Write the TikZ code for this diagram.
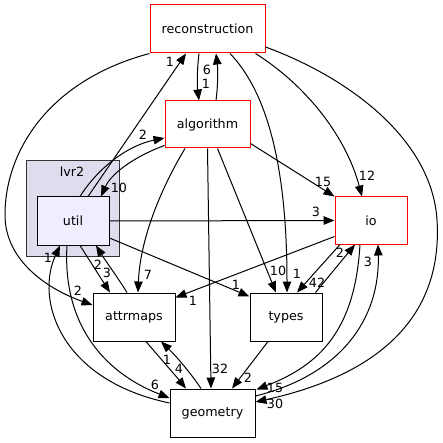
\documentclass[tikz,border=0pt]{standalone}
\usepackage{fontspec}
\setmainfont{DejaVu Sans}
\usetikzlibrary{arrows.meta,calc}
\definecolor{dxred}{HTML}{FF0000}
\definecolor{clusterfill}{HTML}{DDDDEE}
\definecolor{clusterline}{HTML}{333333}
\definecolor{utilfill}{HTML}{EEEEFF}
\newcommand\dxfont{\fontsize{12.7}{14}\selectfont}
\tikzset{
  dirbox/.style={draw=black, fill=white, line width=1pt, inner sep=0pt, font=\dxfont},
  redbox/.style={dirbox, draw=dxred},
  clusterbox/.style={draw=clusterline, fill=clusterfill, line width=1pt, inner sep=0pt},
  edge/.style={line width=1pt, -{Triangle[length=11pt,width=8.5pt]}},
  lbl/.style={inner sep=0pt, font=\dxfont}
}
\begin{document}
\begin{tikzpicture}[x=1pt,y=-1pt]
\useasboundingbox (0,0) rectangle (443,443);
% cluster
\node[clusterbox, minimum width=93pt, minimum height=95pt] (lvr2) at (72.5,208.5) {};
\node[lbl] (lvr2label) at (72,172) {lvr2};
% nodes
\node[redbox, minimum width=115pt, minimum height=48pt] (reconstruction) at (207.5,29) {reconstruction};
\node[redbox, minimum width=85pt, minimum height=47pt] (algorithm) at (207.5,124.5) {algorithm};
\node[dirbox, fill=utilfill, minimum width=72pt, minimum height=48pt] (util) at (73,221) {util};
\node[redbox, minimum width=72pt, minimum height=47pt] (io) at (371,220.5) {io};
\node[dirbox, minimum width=82pt, minimum height=48pt] (attrmaps) at (134,317) {attrmaps};
\node[dirbox, minimum width=72pt, minimum height=48pt] (types) at (286,317) {types};
\node[dirbox, minimum width=85pt, minimum height=48pt] (geometry) at (212.5,413) {geometry};
% edges
\draw[edge] ($(util.north)+(15,0)$) -- ($(reconstruction.south)+(-21.5,0)$);
\draw[edge] ($(reconstruction.south)+(-8.5,0)$) .. controls (197,70) and (197,85) .. ($(algorithm.north)+(-8.5,0)$);
\draw[edge] ($(algorithm.north)+(8.5,0)$) .. controls (218,85) and (218,70) .. ($(reconstruction.south)+(8.5,0)$);
\draw[edge] ($(util.north)+(7,0)$) .. controls (100,165) and (130,145) .. ($(algorithm.west)+(0,13.5)$);
\draw[edge] ($(algorithm.south west)+(0,-3)$) .. controls (138,155) and (112,172) .. ($(util.north)+(28,0)$);
\draw[edge] (reconstruction.south west) .. controls (50,80) and (5,150) .. (5,215) .. controls (5,262) and (50,290) .. ($(attrmaps.west)+(0,-12)$);
\draw[edge] ($(reconstruction.south east)+(-10,0)$) .. controls (310,88) and (347,140) .. ($(io.north)+(-9,0)$);
\draw[edge] ($(reconstruction.south)+(22.5,0)$) .. controls (265,90) and (287,160) .. ($(types.north)+(1,0)$);
\draw[edge] ($(reconstruction.east)+(0,18)$) .. controls (350,78) and (432,140) .. (437,220) .. controls (442,300) and (400,370) .. ($(geometry.east)+(0,-11)$);
\draw[edge] ($(algorithm.south east)+(0,-5)$) -- (io.north west);
\draw[edge] ($(algorithm.south)+(-22.5,0)$) .. controls (160,190) and (140,240) .. ($(attrmaps.north)+(4,0)$);
\draw[edge] (algorithm.south) -- ($(geometry.north)+(-1.5,0)$);
\draw[edge] ($(algorithm.south)+(10,0)$) -- ($(types.north)+(-10,0)$);
\draw[edge] (util.east) -- (io.west);
\draw[edge] ($(util.east)+(0,17)$) -- ($(types.north west)+(0,4)$);
\draw[edge] ($(io.west)+(0,16)$) -- ($(attrmaps.north east)+(0,5)$);
\draw[edge] ($(io.south)+(-31,0)$) -- ($(types.north)+(11,0)$);
\draw[edge] ($(types.north east)+(-7,0)$) -- ($(io.south)+(-16,0)$);
\draw[edge] ($(io.south)+(-11,0)$) .. controls (355,330) and (320,365) .. ($(geometry.north east)+(1,1)$);
\draw[edge] ($(geometry.east)+(0,-17)$) .. controls (340,375) and (380,320) .. ($(io.south)+(7,0)$);
\draw[edge] ($(types.south)+(-18,0)$) -- ($(geometry.north)+(19.5,0)$);
\draw[edge] ($(attrmaps.south)+(12,0)$) .. controls (160,358) and (175,375) .. ($(geometry.north)+(-26.5,0)$);
\draw[edge] ($(geometry.north)+(-11.5,0)$) .. controls (190,372) and (175,355) .. ($(attrmaps.south)+(27,0)$);
\draw[edge] ($(util.south)+(7,0)$) -- ($(attrmaps.north)+(-24,0)$);
\draw[edge] ($(attrmaps.north)+(-7,0)$) .. controls (118,278) and (105,260) .. ($(util.south)+(23,0)$);
\draw[edge] ($(geometry.west)+(0,-10)$) .. controls (60,380) and (35,300) .. ($(util.south)+(-13,0)$);
\draw[edge] ($(util.south)+(-6,0)$) .. controls (62,330) and (110,375) .. ($(geometry.west)+(0,-15)$);
% edge labels
\node[lbl] (l-ur) at (170,62) {1};
\node[lbl] (l-ar) at (207,69.5) {6};
\node[lbl] (l-ra) at (206,83.5) {1};
\node[lbl] (l-ua) at (143,135) {2};
\node[lbl] (l-au) at (119,188) {10};
\node[lbl] (l-ai) at (323,182) {15};
\node[lbl] (l-ri) at (367,176) {12};
\node[lbl] (l-ui) at (316,212) {3};
\node[lbl] (l-ti) at (340,253) {2};
\node[lbl] (l-it) at (317,283) {42};
\node[lbl] (l-gi) at (368,262) {3};
\node[lbl] (l-aa) at (148,275) {7};
\node[lbl] (l-at) at (278,271) {10};
\node[lbl] (l-rt) at (297,274) {1};
\node[lbl] (l-ut) at (236,285) {1};
\node[lbl] (l-ia) at (193,301) {1};
\node[lbl] (l-ra2) at (78,291) {2};
\node[lbl] (l-uat) at (98,265) {2};
\node[lbl] (l-atu) at (107,273) {3};
\node[lbl] (l-gu) at (48,258) {1};
\node[lbl] (l-ug) at (155,385) {6};
\node[lbl] (l-ag) at (220,369) {32};
\node[lbl] (l-tg) at (248,378) {2};
\node[lbl] (l-atg) at (179,369) {4};
\node[lbl] (l-gat) at (167,360) {1};
\node[lbl] (l-ig) at (275,388) {15};
\node[lbl] (l-rg) at (275,404) {30};
\end{tikzpicture}
\end{document}
